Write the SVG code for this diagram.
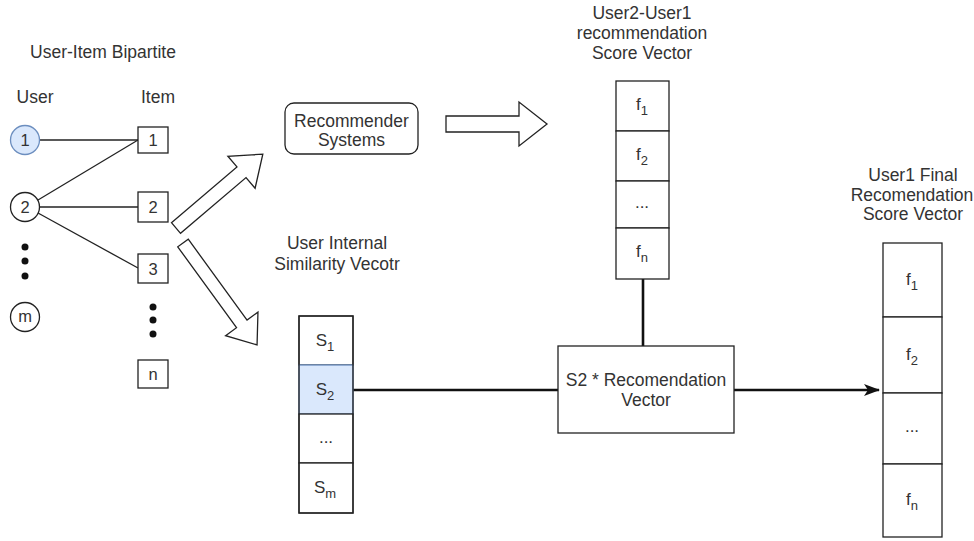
<svg xmlns="http://www.w3.org/2000/svg" width="974" height="541" viewBox="0 0 974 541">
<style>
text{font-family:"Liberation Sans",Arial,sans-serif;fill:#333;font-size:16.5px;text-anchor:middle}
.lbl{font-size:17.5px}
.box{fill:#fff;stroke:#222;stroke-width:1.3}
.hl{fill:#dae8fc;stroke:#6c8ebf;stroke-width:1.3}
.thin{stroke:#222;stroke-width:1.3;fill:none}
.thick{stroke:#111;stroke-width:2.6;fill:none}
.blk{fill:#fff;stroke:#222;stroke-width:1.3}
.dot{fill:#111}
.cell{font-size:17px}
.sub{font-size:13px}
</style>
<defs>
<marker id="ah" viewBox="0 0 16 12" refX="15" refY="6" markerWidth="16" markerHeight="12" markerUnits="userSpaceOnUse" orient="auto">
<path d="M0,0 L16,6 L0,12 L4,6 Z" fill="#111"/>
</marker>
</defs>
<rect width="974" height="541" fill="#fff"/>

<g id="labels">
<text x="103" y="58" class="lbl">User-Item Bipartite</text>
<text x="35" y="103" class="lbl">User</text>
<text x="158" y="103" class="lbl">Item</text>
<text x="337" y="249" class="lbl">User Internal</text>
<text x="337" y="270" class="lbl">Similarity Vecotr</text>
<text x="642" y="19" class="lbl">User2-User1</text>
<text x="642" y="39" class="lbl">recommendation</text>
<text x="642" y="59" class="lbl">Score Vector</text>
<text x="913" y="181" class="lbl">User1 Final</text>
<text x="912" y="201" class="lbl">Recomendation</text>
<text x="913" y="220" class="lbl">Score Vector</text>
</g>

<g id="connectors">
<line class="thin" x1="40" y1="140" x2="138" y2="140"/>
<line class="thin" x1="38" y1="200" x2="138" y2="140"/>
<line class="thin" x1="40" y1="207" x2="138" y2="207"/>
<line class="thin" x1="38" y1="213" x2="138" y2="268"/>
<line class="thick" x1="353" y1="390" x2="558" y2="390"/>
<line class="thick" x1="643" y1="279" x2="643" y2="346"/>
<line class="thick" x1="734" y1="390" x2="879" y2="390" marker-end="url(#ah)"/>
<polygon class="blk" points="446,116 519,116 519,102 547,124 519,146 519,132 446,132"/>
<polygon class="blk" transform="translate(176,228) rotate(-40.4)" points="0,-7 86,-7 86,-21 114,0 86,21 86,7 0,7"/>
<polygon class="blk" transform="translate(183,243) rotate(54)" points="0,-6.5 100,-6.5 100,-20 126,0 100,20 100,6.5 0,6.5"/>
</g>

<g id="user1"><circle cx="25" cy="140" r="14.5" class="hl"/><text x="25" y="146">1</text></g>
<g id="user2"><circle cx="25" cy="207" r="14.5" class="box"/><text x="25" y="213">2</text></g>
<g id="userdots"><circle class="dot" cx="25" cy="247" r="3.5"/><circle class="dot" cx="25" cy="261" r="3.5"/><circle class="dot" cx="25" cy="276" r="3.5"/></g>
<g id="userm"><circle cx="25" cy="317" r="14.5" class="box"/><text x="25" y="322">m</text></g>

<g id="item1"><rect class="box" x="138" y="127" width="30" height="26"/><text x="153" y="146">1</text></g>
<g id="item2"><rect class="box" x="138" y="192" width="30" height="30"/><text x="153" y="213">2</text></g>
<g id="item3"><rect class="box" x="138" y="254" width="30" height="29"/><text x="153" y="275">3</text></g>
<g id="itemdots"><circle class="dot" cx="153" cy="307" r="3.5"/><circle class="dot" cx="153" cy="320" r="3.5"/><circle class="dot" cx="153" cy="334" r="3.5"/></g>
<g id="itemn"><rect class="box" x="138" y="360" width="30" height="28"/><text x="153" y="380">n</text></g>

<g id="recsys"><rect class="box" x="285" y="103" width="133" height="51" rx="9"/><text x="351.5" y="127" class="lbl">Recommender</text><text x="351.5" y="146" class="lbl">Systems</text></g>

<g id="svector">
<rect class="box" x="299" y="316" width="54" height="49"/>
<rect class="hl" x="299" y="365" width="54" height="49"/>
<rect class="box" x="299" y="414" width="54" height="49"/>
<rect class="box" x="299" y="463" width="54" height="50"/>
<rect x="299" y="316" width="54" height="197" fill="none" stroke="#222" stroke-width="1.3"/>
<text x="325" y="346" class="cell">S<tspan class="sub" dy="5">1</tspan></text>
<text x="325" y="395" class="cell">S<tspan class="sub" dy="5">2</tspan></text>
<text x="326" y="443" class="cell">...</text>
<text x="325" y="493" class="cell">S<tspan class="sub" dy="5">m</tspan></text>
</g>

<g id="fvector">
<rect class="box" x="616" y="81" width="53" height="50"/>
<rect class="box" x="616" y="131" width="53" height="50"/>
<rect class="box" x="616" y="181" width="53" height="47"/>
<rect class="box" x="616" y="228" width="53" height="51"/>
<text x="642" y="110" class="cell">f<tspan class="sub" dy="5">1</tspan></text>
<text x="642" y="160" class="cell">f<tspan class="sub" dy="5">2</tspan></text>
<text x="642" y="208" class="cell">...</text>
<text x="642" y="257" class="cell">f<tspan class="sub" dy="5">n</tspan></text>
</g>

<g id="multiply"><rect class="box" x="558" y="346" width="176" height="87"/><text x="646" y="386" class="lbl">S2 * Recomendation</text><text x="646" y="406" class="lbl">Vector</text></g>

<g id="finalvector">
<rect class="box" x="883" y="243" width="59" height="74"/>
<rect class="box" x="883" y="317" width="59" height="76"/>
<rect class="box" x="883" y="393" width="59" height="71"/>
<rect class="box" x="883" y="464" width="59" height="73"/>
<text x="912" y="285" class="cell">f<tspan class="sub" dy="5">1</tspan></text>
<text x="912" y="360" class="cell">f<tspan class="sub" dy="5">2</tspan></text>
<text x="912" y="432" class="cell">...</text>
<text x="912" y="505" class="cell">f<tspan class="sub" dy="5">n</tspan></text>
</g>
</svg>
